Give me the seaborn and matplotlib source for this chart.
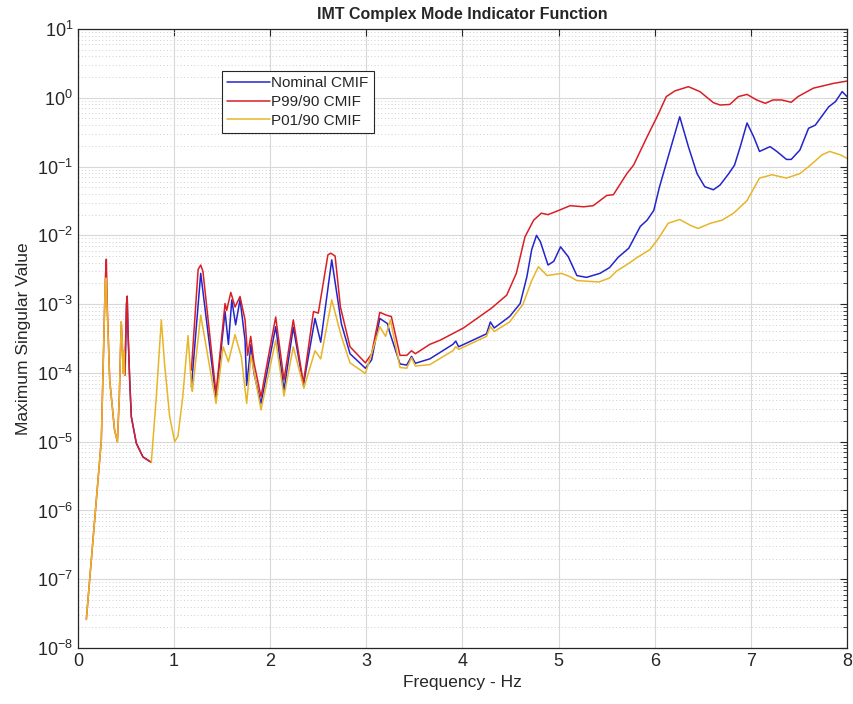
import numpy as np
import pandas as pd
import seaborn as sns
import matplotlib.pyplot as plt
from matplotlib.ticker import FixedLocator, LogFormatterSciNotation, NullFormatter

nan = np.nan

# Nominal CMIF (nan marks a break in the line)
nominal_freq = [0.490, 0.505, 0.512, 0.520, 0.538, 0.555, 0.607, 0.676, 0.763, nan,
                1.180, 1.277, 1.436, 1.530, 1.565, 1.600, 1.640, 1.686, 1.738, 1.755,
                1.800, 1.830, 1.904, 2.057, 2.143, 2.240, 2.345, 2.466, 2.525, 2.640,
                2.740, 2.830, 2.990, 3.055, 3.140, 3.220, 3.245, 3.350, 3.420, 3.470,
                3.510, 3.660, 3.900, 3.930, 3.960, 4.250, 4.290, 4.330, 4.490, 4.600,
                4.670, 4.720, 4.770, 4.810, 4.890, 4.950, 5.020, 5.100, 5.190, 5.290,
                5.430, 5.530, 5.620, 5.730, 5.850, 5.920, 5.990, 6.050, 6.160, 6.260,
                6.350, 6.440, 6.520, 6.610, 6.680, 6.770, 6.830, 6.890, 6.960, 7.030,
                7.090, 7.200, 7.270, 7.370, 7.420, 7.510, 7.600, 7.670, 7.810, 7.880,
                7.950, 8.000]
nominal_val = [9.3e-5, 1.0e-3, 1.3e-3, 4.2e-4, 7.9e-5, 2.3e-5, 9.5e-6, 6.0e-6, 5.0e-6, nan,
               6.3e-5, 2.8e-3, 4.3e-5, 7.8e-4, 2.6e-4, 1.15e-3, 5.0e-4, 1.17e-3, 3.0e-4, 6.6e-5,
               2.6e-4, 1.0e-4, 3.6e-5, 4.7e-4, 5.6e-5, 4.6e-4, 6.6e-5, 6.2e-4, 2.8e-4, 4.4e-3,
               5.2e-4, 1.9e-4, 1.17e-4, 1.55e-4, 6.2e-4, 5.2e-4, 3.8e-4, 1.35e-4, 1.3e-4, 1.74e-4,
               1.38e-4, 1.6e-4, 2.6e-4, 2.9e-4, 2.4e-4, 3.7e-4, 5.5e-4, 4.5e-4, 6.6e-4, 1.02e-3,
               2.5e-3, 6.2e-3, 1.0e-2, 8.1e-3, 3.7e-3, 4.2e-3, 6.8e-3, 4.9e-3, 2.6e-3, 2.45e-3,
               2.8e-3, 3.4e-3, 4.8e-3, 6.5e-3, 1.35e-2, 1.66e-2, 2.3e-2, 5.1e-2, 0.174, 0.53,
               0.195, 0.079, 0.051, 0.046, 0.054, 0.079, 0.105, 0.195, 0.43, 0.27,
               0.166, 0.195, 0.166, 0.127, 0.127, 0.174, 0.36, 0.40, 0.74, 0.88,
               1.23, 1.04]

# P99/90 CMIF
p99_freq = [0.087, 0.243, 0.284, 0.295, 0.305, 0.330, 0.380, 0.410, 0.430, 0.450,
            0.460, 0.470, 0.478, 0.486, 0.505, 0.512, 0.520, 0.538, 0.555, 0.607,
            0.676, 0.763, nan,
            1.180, 1.250, 1.277, 1.300, 1.436, 1.530, 1.547, 1.590, 1.634, 1.686,
            1.738, 1.765, 1.797, 1.831, 1.904, 2.057, 2.143, 2.240, 2.345, 2.450,
            2.500, 2.600, 2.630, 2.675, 2.730, 2.830, 2.990, 3.055, 3.140, 3.210,
            3.260, 3.350, 3.420, 3.470, 3.510, 3.660, 3.770, 4.010, 4.300, 4.460,
            4.560, 4.650, 4.740, 4.820, 4.890, 5.000, 5.120, 5.260, 5.360, 5.430,
            5.500, 5.570, 5.710, 5.780, 5.920, 6.040, 6.120, 6.210, 6.350, 6.470,
            6.610, 6.680, 6.780, 6.870, 6.960, 7.060, 7.150, 7.230, 7.320, 7.420,
            7.490, 7.650, 7.860, 8.000]
p99_val = [2.6e-8, 1.05e-5, 2.2e-3, 4.5e-3, 9.0e-4, 7.9e-5, 1.5e-5, 1.0e-5, 4.5e-5, 5.5e-4,
           3.0e-4, 1.0e-4, 2.1e-4, 9.3e-5, 1.0e-3, 1.3e-3, 4.2e-4, 7.9e-5, 2.3e-5, 9.5e-6,
           6.0e-6, 5.0e-6, nan,
           1.1e-4, 3.2e-3, 3.7e-3, 3.0e-3, 5.0e-5, 1.02e-3, 8.1e-4, 1.48e-3, 9.1e-4, 1.29e-3,
           5.9e-4, 1.8e-4, 3.4e-4, 1.4e-4, 4.5e-5, 6.5e-4, 7.9e-5, 5.9e-4, 7.1e-5, 7.8e-4,
           7.4e-4, 5.2e-3, 5.5e-3, 5.0e-3, 9.1e-4, 2.4e-4, 1.4e-4, 1.9e-4, 7.6e-4, 6.9e-4,
           6.6e-4, 1.8e-4, 1.8e-4, 2.1e-4, 1.9e-4, 2.6e-4, 3.0e-4, 4.5e-4, 8.7e-4, 1.35e-3,
           2.8e-3, 9.5e-3, 1.66e-2, 2.1e-2, 2.0e-2, 2.3e-2, 2.7e-2, 2.6e-2, 2.7e-2, 3.2e-2,
           3.8e-2, 3.9e-2, 7.9e-2, 0.105, 0.27, 0.59, 1.04, 1.26, 1.45, 1.23,
           0.85, 0.785, 0.80, 1.04, 1.12, 0.93, 0.83, 0.93, 0.93, 0.86,
           1.04, 1.38, 1.62, 1.75]

# P01/90 CMIF
p01_freq = [0.087, 0.243, 0.284, 0.292, 0.305, 0.330, 0.380, 0.410, 0.430, 0.450,
            0.460, 0.470, 0.478, 0.486, nan,
            0.763, 0.815, 0.867, 0.900, 0.954, 1.006, 1.040, 1.090, 1.145, 1.180,
            1.190, 1.277, 1.436, 1.510, 1.565, 1.634, 1.700, 1.755, 1.800, 1.904,
            2.057, 2.143, 2.240, 2.350, 2.466, 2.525, 2.640, 2.740, 2.830, 2.990,
            3.140, 3.200, 3.250, 3.350, 3.420, 3.470, 3.510, 3.660, 3.900, 3.930,
            3.960, 4.250, 4.290, 4.330, 4.490, 4.630, 4.720, 4.790, 4.880, 5.030,
            5.120, 5.190, 5.420, 5.530, 5.600, 5.740, 5.810, 5.950, 6.040, 6.140,
            6.260, 6.370, 6.450, 6.580, 6.700, 6.820, 6.960, 7.090, 7.220, 7.370,
            7.510, 7.620, 7.740, 7.820, 7.930, 8.000]
p01_val = [2.6e-8, 1.05e-5, 2.2e-3, 2.4e-3, 7.4e-4, 7.9e-5, 1.5e-5, 1.0e-5, 4.5e-5, 5.5e-4,
           3.0e-4, 1.0e-4, 2.1e-4, 9.3e-5, nan,
           5.0e-6, 4.5e-5, 5.9e-4, 1.4e-4, 2.3e-5, 1.0e-5, 1.2e-5, 4.5e-5, 3.5e-4, 6.3e-5,
           5.4e-5, 6.9e-4, 3.6e-5, 2.4e-4, 1.45e-4, 3.6e-4, 1.7e-4, 3.6e-5, 1.8e-4, 2.9e-5,
           3.0e-4, 4.6e-5, 2.4e-4, 6.0e-5, 2.1e-4, 1.6e-4, 1.15e-3, 3.4e-4, 1.4e-4, 9.8e-5,
           4.7e-4, 3.4e-4, 5.9e-4, 1.2e-4, 1.17e-4, 1.66e-4, 1.26e-4, 1.32e-4, 2.1e-4, 2.4e-4,
           2.2e-4, 3.4e-4, 4.7e-4, 4.0e-4, 5.5e-4, 1.0e-3, 2.2e-3, 3.5e-3, 2.6e-3, 2.8e-3,
           2.5e-3, 2.2e-3, 2.1e-3, 2.4e-3, 3.0e-3, 4.0e-3, 4.7e-3, 6.2e-3, 9.1e-3, 1.5e-2,
           1.7e-2, 1.4e-2, 1.26e-2, 1.5e-2, 1.66e-2, 2.1e-2, 3.2e-2, 6.8e-2, 7.6e-2, 6.8e-2,
           7.9e-2, 0.105, 0.148, 0.166, 0.148, 0.132]

series_names = ["Nominal CMIF", "P99/90 CMIF", "P01/90 CMIF"]
series_colors = ["#2424cc", "#d91f26", "#e8b528"]
decades = [1e-8, 1e-7, 1e-6, 1e-5, 1e-4, 1e-3, 1e-2, 1e-1, 1e0, 1e1]

rows = []
for name, fr, vals in zip(series_names,
                          [nominal_freq, p99_freq, p01_freq],
                          [nominal_val, p99_val, p01_val]):
    seg = 0
    for f, v in zip(fr, vals):
        if np.isnan(v):
            seg += 1
            continue
        rows.append({"series": name, "seg": f"{name}-{seg}", "freq": f, "value": v})
df = pd.DataFrame(rows)

sns.set_style("white")
plt.rcParams["font.family"] = ["Liberation Sans", "DejaVu Sans"]
plt.rcParams["mathtext.fontset"] = "custom"
plt.rcParams["mathtext.rm"] = "Liberation Sans"
plt.rcParams["mathtext.it"] = "Liberation Sans:italic"
plt.rcParams["mathtext.bf"] = "Liberation Sans:bold"

fig = plt.figure(figsize=(8.54, 7.04), dpi=100)
ax = fig.add_axes([0.0913, 0.0795, 0.9005, 0.8793])

sns.lineplot(data=df, x="freq", y="value", hue="series", hue_order=series_names,
             units="seg", estimator=None, sort=False,
             palette=dict(zip(series_names, series_colors)), linewidth=1.1, ax=ax)

ax.set_yscale("log")
ax.set_xlim(0, 8)
ax.set_ylim(1e-8, 1e1)
ax.set_xticks(range(9))
minor_y = [m * d for d in decades[:-1] for m in range(2, 10)]
ax.yaxis.set_major_locator(FixedLocator(decades))
ax.yaxis.set_major_formatter(LogFormatterSciNotation())
ax.yaxis.set_minor_locator(FixedLocator(minor_y))
ax.yaxis.set_minor_formatter(NullFormatter())

ax.grid(True, which="major", color="#d8d8d8", linewidth=0.8)
ax.grid(True, which="minor", axis="y", color="#cfcfcf", linestyle=(0, (1, 2.5)),
        linewidth=0.7)
ax.set_axisbelow(True)

ax.tick_params(which="both", direction="in", top=True, right=True,
               colors="#262626", labelsize=13)
ax.tick_params(which="major", length=5)
ax.tick_params(which="minor", length=3)
for sp in ax.spines.values():
    sp.set_color("#262626")
    sp.set_linewidth(0.9)

ax.set_title("IMT Complex Mode Indicator Function", fontsize=11.5,
             fontweight="bold", pad=7)
ax.set_xlabel("Frequency - Hz", fontsize=12.5, color="#262626")
ax.set_ylabel("Maximum Singular Value", fontsize=12.5, color="#262626")

sns.move_legend(ax, loc="upper left", bbox_to_anchor=(0.187, 0.932),
                title=None, frameon=True, fancybox=False, edgecolor="#262626",
                framealpha=1, fontsize=11, borderaxespad=0,
                handlelength=2.8, handletextpad=0.1, labelspacing=0.3,
                borderpad=0.35)
ax.get_legend().get_frame().set_linewidth(0.8)

fig.savefig("out.png", dpi=100)
